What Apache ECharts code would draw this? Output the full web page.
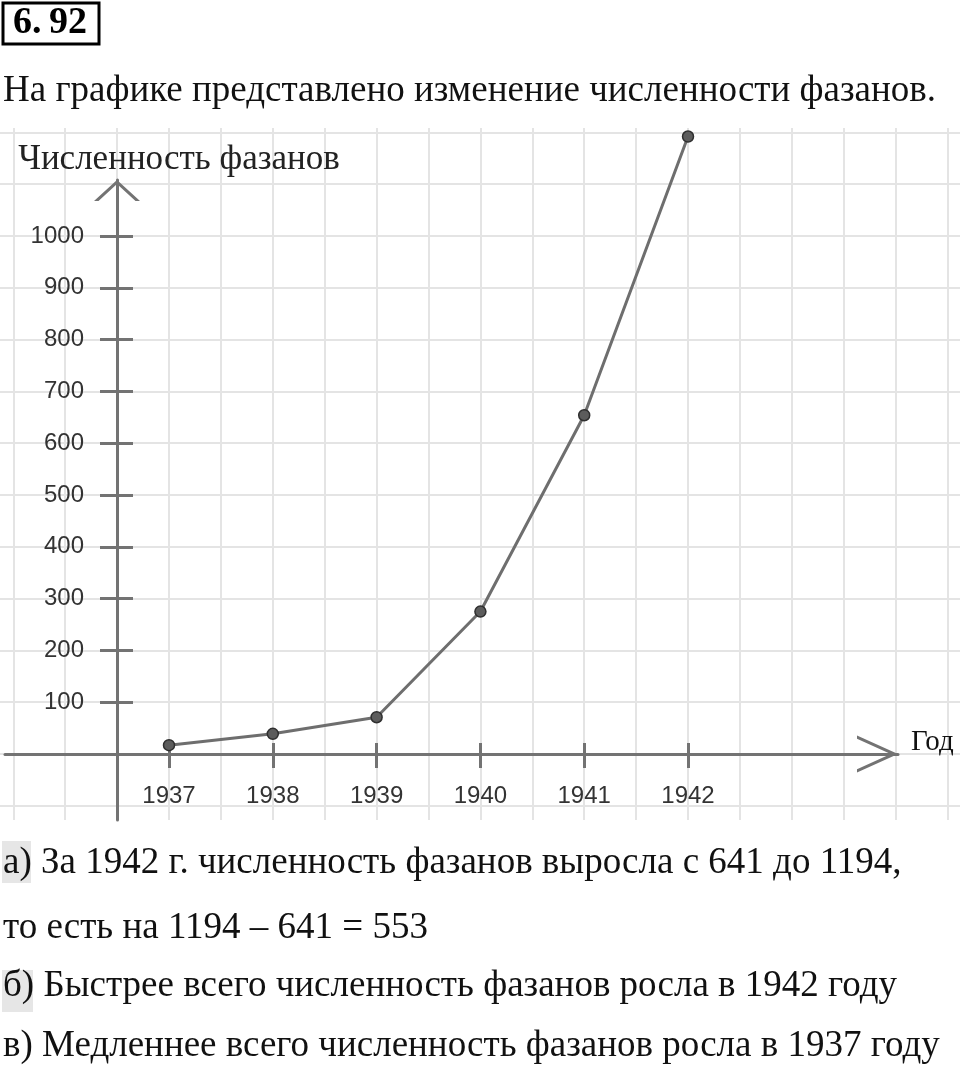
<!DOCTYPE html>
<html>
<head>
<meta charset="utf-8">
<title>Численность фазанов</title>
<script src="https://cdn.jsdelivr.net/npm/echarts@6/dist/echarts.min.js"></script>
<style>
html, body { margin: 0; padding: 0; background: #fff; }
#container { width: 960px; height: 1078px; }
</style>
</head>
<body>
<div id="container"></div>
<script>
// data
var years = [1937, 1938, 1939, 1940, 1941, 1942];
var counts = [17, 39, 71, 275, 654, 1192];
var yTicks = [100, 200, 300, 400, 500, 600, 700, 800, 900, 1000];

// squared paper behind the graph (half a year x 100 birds)
var gridX = [1935.5, 1936, 1936.5, 1937, 1937.5, 1938, 1938.5, 1939, 1939.5, 1940,
             1940.5, 1941, 1941.5, 1942, 1942.5, 1943, 1943.5, 1944, 1944.5];
var gridY = [-100, 0, 100, 200, 300, 400, 500, 600, 700, 800, 900, 1000, 1100, 1200];

var serif = "'Liberation Serif', 'Times New Roman', serif";
var sans = "'Liberation Sans', Arial, sans-serif";
var axisColor = '#737373';
var textFont = '37px ' + serif;

var dom = document.getElementById('container');
var myChart = echarts.init(dom);

var plotData = years.map(function (y, i) { return [y, counts[i]]; });

function plain(v) { return String(v); }

var option = {
    animation: false,
    backgroundColor: '#fff',
    grid: [
        // paper
        { left: 0, top: 128, width: 960, height: 692, outerBoundsMode: 'none' },
        // vertical axis (runs below zero)
        { left: 5, top: 180, width: 893, height: 640, outerBoundsMode: 'none' },
        // horizontal axis and the graph
        { left: 5, top: 180, width: 893, height: 574, outerBoundsMode: 'none' }
    ],
    xAxis: [{
        gridIndex: 0,
        type: 'value',
        min: 1935.372,
        max: 1944.62,
        axisLine: { show: false },
        axisTick: { show: false, customValues: gridX },
        axisLabel: { show: false },
        splitLine: { show: true, lineStyle: { color: '#e4e4e4', width: 2 } }
    }, {
        gridIndex: 1,
        type: 'value',
        show: false,
        min: 1935.42,
        max: 1944.023
    }, {
        gridIndex: 2,
        type: 'value',
        position: 'bottom',
        min: 1935.42,
        max: 1944.023,
        name: 'Год',
        nameLocation: 'end',
        nameGap: 13,
        nameTextStyle: {
            fontFamily: serif, fontSize: 29, color: '#111',
            verticalAlign: 'bottom',
            lineHeight: 23
        },
        axisLine: {
            onZero: false,
            symbol: ['none', 'path://M0 41L18.5 0L37 41L33.7 41L18.5 7.3L3.3 41Z'],
            symbolSize: [37, 41],
            symbolOffset: [0, -20.5],
            lineStyle: { color: axisColor, width: 3 }
        },
        axisTick: {
            customValues: years,
            length: 14,
            lineStyle: { color: axisColor, width: 3 }
        },
        axisLabel: {
            customValues: years,
            formatter: plain,
            margin: 30,
            fontFamily: sans, fontSize: 24, color: '#333'
        },
        splitLine: { show: false }
    }, {
        // upper half of the year ticks
        gridIndex: 2,
        type: 'value',
        position: 'bottom',
        min: 1935.42,
        max: 1944.023,
        axisLine: { show: false, onZero: false },
        axisTick: {
            inside: true,
            customValues: years,
            length: 11,
            lineStyle: { color: axisColor, width: 3 }
        },
        axisLabel: { show: false },
        splitLine: { show: false }
    }],
    yAxis: [{
        gridIndex: 0,
        type: 'value',
        min: -127.4,
        max: 1208.5,
        axisLine: { show: false },
        axisTick: { show: false, customValues: gridY },
        axisLabel: { show: false },
        splitLine: { show: true, lineStyle: { color: '#e4e4e4', width: 2 } }
    }, {
        gridIndex: 1,
        type: 'value',
        position: 'left',
        min: -127.41,
        max: 1108.1,
        offset: -112,
        name: 'Численность фазанов',
        nameLocation: 'end',
        nameGap: 20,
        nameTextStyle: {
            fontFamily: serif, fontSize: 35, color: '#222',
            align: 'center', verticalAlign: 'middle',
            padding: [0, 0, 0, 124]
        },
        axisLine: {
            onZero: false,
            symbol: ['none', 'path://M0 21L23 0L46 21L41.5 21L23 4L4.5 21Z'],
            symbolSize: [46, 21],
            symbolOffset: [0, -10.5],
            lineStyle: { color: axisColor, width: 3 }
        },
        axisTick: {
            customValues: yTicks,
            length: 17,
            lineStyle: { color: axisColor, width: 3 }
        },
        axisLabel: {
            customValues: yTicks,
            formatter: plain,
            margin: 33,
            fontFamily: sans, fontSize: 24, color: '#333'
        },
        splitLine: { show: false }
    }, {
        // right half of the count ticks
        gridIndex: 1,
        type: 'value',
        position: 'left',
        min: -127.41,
        max: 1108.1,
        offset: -112,
        axisLine: { show: false, onZero: false },
        axisTick: {
            inside: true,
            customValues: yTicks,
            length: 16,
            lineStyle: { color: axisColor, width: 3 }
        },
        axisLabel: { show: false },
        splitLine: { show: false }
    }, {
        // same scale as the visible axis, starting at zero
        gridIndex: 2,
        type: 'value',
        show: false,
        position: 'left',
        min: 0,
        max: 1108.1
    }],
    series: [{
        type: 'line',
        xAxisIndex: 2,
        yAxisIndex: 3,
        data: plotData,
        clip: false,
        symbol: 'circle',
        symbolSize: 11,
        lineStyle: { color: '#6e6e6e', width: 3 },
        itemStyle: { color: '#5c5c5c', borderColor: '#2f2f2f', borderWidth: 1.5 },
        z: 5
    }],
    graphic: [
        { type: 'rect', shape: { x: 3, y: 3, width: 96, height: 41 },
          style: { fill: 'none', stroke: '#000', lineWidth: 3 } },
        { type: 'text', x: 13, y: 23,
          style: { text: '6.\u200992', font: 'bold 38px ' + serif, fill: '#000', verticalAlign: 'middle' } },
        { type: 'text', x: 3, y: 91,
          style: { text: 'На графике представлено изменение численности фазанов.', font: textFont, fill: '#111', verticalAlign: 'middle' } },

        { type: 'rect', shape: { x: 2, y: 841, width: 29, height: 42 }, style: { fill: '#e6e6e6' } },
        { type: 'text', x: 3, y: 863,
          style: { text: 'а) За 1942 г. численность фазанов выросла с 641 до 1194,', font: textFont, fill: '#111', verticalAlign: 'middle' } },
        { type: 'text', x: 3, y: 928,
          style: { text: 'то есть на 1194 – 641 = 553', font: textFont, fill: '#111', verticalAlign: 'middle' } },
        { type: 'rect', shape: { x: 2, y: 970, width: 31, height: 42 }, style: { fill: '#e6e6e6' } },
        { type: 'text', x: 3, y: 986,
          style: { text: 'б) Быстрее всего численность фазанов росла в 1942 году', font: textFont, fill: '#111', verticalAlign: 'middle' } },
        { type: 'text', x: 3, y: 1046,
          style: { text: 'в) Медленнее всего численность фазанов росла в 1937 году', font: textFont, fill: '#111', verticalAlign: 'middle' } }
    ]
};

if (option && typeof option === 'object') {
    myChart.setOption(option, true);
}
</script>
</body>
</html>
